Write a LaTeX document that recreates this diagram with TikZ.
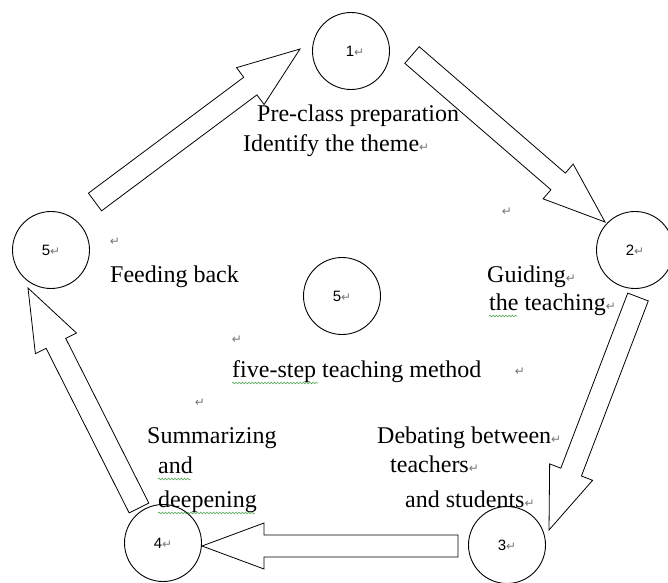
\documentclass[tikz,border=0pt]{standalone}
\usepackage{fontspec}
\setmainfont{Liberation Serif}
\newfontfamily\numfont{Liberation Sans}
\newfontfamily\symfont{DejaVu Sans}
\usetikzlibrary{calc,decorations.pathmorphing}
\definecolor{retgray}{RGB}{120,120,120}
\definecolor{squig}{RGB}{70,160,70}
\newcommand{\retmark}{{\symfont\fontsize{12}{12}\selectfont\color{retgray}↵}}
\newcommand{\blockarrow}[3]{%
  \coordinate (#3h) at ($(#2)!62pt!(#1)$);
  \draw[blockarr] ($(#1)!11pt!90:(#2)$) -- ($(#3h)!11pt!-90:(#1)$)
    -- ($(#3h)!23pt!-90:(#1)$) -- (#2) -- ($(#3h)!23pt!90:(#1)$)
    -- ($(#3h)!11pt!90:(#1)$) -- ($(#1)!11pt!-90:(#2)$) -- cycle;
}
\tikzset{
  stepcircle/.style={circle, draw, line width=0.9pt, minimum size=77pt, inner sep=0pt, font=\numfont\fontsize{15}{15}\selectfont},
  blockarr/.style={draw, line width=0.8pt, line join=miter, fill=white},
  lbl/.style={anchor=base west, inner sep=0pt, font=\fontsize{24}{28}\selectfont},
  retnode/.style={inner sep=0pt, anchor=center},
  squiggle/.style={draw=squig, line width=0.5pt, decorate, decoration={snake, amplitude=0.9pt, segment length=3.2pt}}
}
\begin{document}
\begin{tikzpicture}[x=1pt,y=1pt]
\useasboundingbox (0,0) rectangle (668,582);
\fill[white] (0,0) rectangle (668,582);
% circles
\node[stepcircle] (c1) at (351,531) {\hspace*{8pt}1\retmark};
\node[stepcircle] (c2) at (635,332) {2\retmark};
\node[stepcircle] (c5) at (51,332) {5\retmark};
\node[stepcircle] (cc) at (342,286) {5\retmark};
\node[stepcircle] (c4) at (163,39) {4\retmark};
\node[stepcircle] (c3) at (507,37) {3\retmark};
% arrow end points
\coordinate (aT) at (95,380);  \coordinate (aH) at (300,533);
\coordinate (bT) at (412,527); \coordinate (bH) at (605,360);
\coordinate (cT) at (638,285); \coordinate (cH) at (549,52);
\coordinate (dT) at (458,36);  \coordinate (dH) at (202,36);
\coordinate (eT) at (139,74);  \coordinate (eH) at (28,294);
\blockarrow{aT}{aH}{a}
\blockarrow{bT}{bH}{b}
\blockarrow{cT}{cH}{c}
\blockarrow{dT}{dH}{d}
\blockarrow{eT}{eH}{e}
% texts
\node[lbl] (t1a) at (257,460) {Pre-class preparation};
\node[lbl] (t1b) at (243,430) {Identify the theme\retmark};
\node[lbl] (t2a) at (487,300) {Guiding\retmark};
\node[lbl] (t2b) at (489,272) {the teaching\retmark};
\node[lbl] (t5) at (110,300) {Feeding back};
\node[lbl] (tc) at (232,205) {five-step teaching method};
\node[lbl] (t4a) at (147,139) {Summarizing};
\node[lbl] (t4b) at (158,109) {and};
\node[lbl] (t4c) at (158,75) {deepening};
\node[lbl] (t3a) at (377,139) {Debating between\retmark};
\node[lbl] (t3b) at (390,110) {teachers\retmark};
\node[lbl] (t3c) at (405,75) {and students\retmark};
% stray paragraph marks
\node[retnode] (m1) at (507,370) {\retmark};
\node[retnode] (m2) at (115,340) {\retmark};
\node[retnode] (m3) at (237,242) {\retmark};
\node[retnode] (m4) at (520,210) {\retmark};
\node[retnode] (m5) at (200,179) {\retmark};
% spell-check squiggles
\draw[squiggle] ([yshift=-6pt]tc.base west) -- ++(86,0);
\draw[squiggle] ([yshift=-6pt]t2b.base west) -- ++(28,0);
\draw[squiggle] ([yshift=-6pt]t4b.base west) -- ++(33,0);
\draw[squiggle] ([yshift=-6pt]t4c.base west) -- ++(97,0);
\end{tikzpicture}
\end{document}
